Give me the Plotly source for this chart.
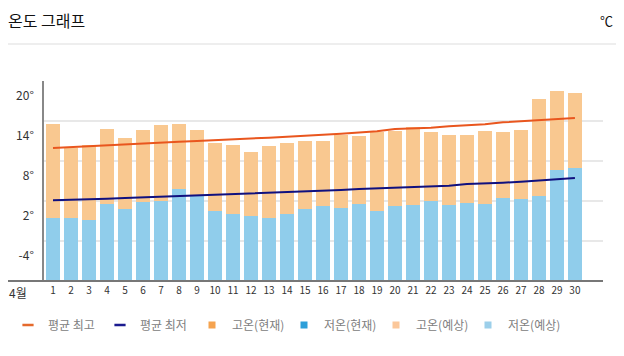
import plotly.graph_objects as go

days = list(range(1, 31))
day_labels = [str(d) for d in days]

# forecast highs / lows (°C)
high_fc = [13.6, 9.9, 10.4, 12.8, 11.4, 12.6, 13.4, 13.5, 12.6, 10.7,
           10.4, 9.3, 10.2, 10.7, 11.0, 11.0, 11.9, 11.7, 12.4, 12.5,
           13.1, 12.3, 11.9, 11.9, 12.5, 12.3, 12.6, 17.3, 18.5, 18.2]
low_fc = [-0.6, -0.5, -0.8, 1.6, 0.8, 1.9, 2.0, 3.8, 2.8, 0.5,
          0.1, -0.2, -0.6, 0.0, 0.8, 1.2, 0.9, 1.5, 0.5, 1.2,
          1.4, 2.0, 1.4, 1.7, 1.5, 2.4, 2.3, 2.8, 6.6, 7.0]
avg_high = [9.95, 10.1, 10.2, 10.35, 10.5, 10.6, 10.75, 10.9, 11.0, 11.1,
            11.25, 11.4, 11.5, 11.65, 11.85, 11.95, 12.1, 12.25, 12.45, 12.8,
            12.85, 13.0, 13.2, 13.35, 13.5, 13.8, 13.95, 14.1, 14.25, 14.45]
avg_low = [2.1, 2.15, 2.25, 2.35, 2.45, 2.55, 2.65, 2.75, 2.8, 2.9,
           2.95, 3.05, 3.15, 3.25, 3.45, 3.55, 3.65, 3.8, 3.9, 4.05,
           4.15, 4.25, 4.3, 4.55, 4.6, 4.75, 4.9, 5.05, 5.25, 5.45]

y_ticks = [-4, 2, 8, 14, 20]
y_tick_labels = ["-4°", "2°", "8°", "14°", "20°"]
y_min, y_max = -10, 20

legend_names = ["평균 최고", "평균 최저", "고온(현재)", "저온(현재)", "고온(예상)", "저온(예상)"]
legend_colors = ["#E56A2C", "#1B1B8F", "#F5A34F", "#2D9FD9", "#FBC79A", "#9CCFEA"]

FONT = "Noto Sans CJK KR"

# figure geometry (page has an 8px body margin)
W, H = 616, 348
ML, MR, MT, MB = 36, 21, 73, 75
PW, PH = W - ML - MR, H - MT - MB


def px_x(x):
    return (x - ML) / PW


def px_y(y):
    return (H - MB - y) / PH


fig = go.Figure()

# blue (low) bars from axis bottom
fig.add_trace(go.Bar(
    x=days, y=[l - y_min for l in low_fc], base=[y_min] * len(days),
    marker=dict(color="#90CDEB", line=dict(width=0)), width=0.78,
    showlegend=False, hoverinfo="skip"))
# orange (low -> high) bars
fig.add_trace(go.Bar(
    x=days, y=[h - l for h, l in zip(high_fc, low_fc)], base=low_fc,
    marker=dict(color="#F9C890", line=dict(width=0)), width=0.78,
    showlegend=False, hoverinfo="skip"))

fig.add_trace(go.Scatter(x=days, y=avg_high, mode="lines",
                         line=dict(color="#E9561E", width=2),
                         showlegend=False, hoverinfo="skip"))
fig.add_trace(go.Scatter(x=days, y=avg_low, mode="lines",
                         line=dict(color="#10107F", width=2),
                         showlegend=False, hoverinfo="skip"))

# legend entries
for i, (name, col) in enumerate(zip(legend_names, legend_colors)):
    if i < 2:
        mk = dict(symbol="line-ew", size=8, line=dict(width=2.5, color=col))
    else:
        mk = dict(symbol="square", size=7, color=col, line=dict(width=0))
    fig.add_trace(go.Scatter(x=[None], y=[None], mode="markers", name=name,
                             marker=mk, showlegend=True))

fig.update_layout(
    width=W, height=H,
    margin=dict(l=ML, r=MR, t=MT, b=MB, autoexpand=False),
    paper_bgcolor="white", plot_bgcolor="white",
    barmode="overlay", bargap=0,
    font=dict(family=FONT, color="#333"),
    title=dict(text="온도 그래프", x=0, xref="container", xanchor="left",
               y=1 - 13 / H, yref="container", yanchor="middle",
               font=dict(size=16, color="#111", family=FONT, weight="normal")),
    legend=dict(orientation="h", xref="container", yref="container",
                x=-0.012, xanchor="left", y=1 - 317 / H, yanchor="middle",
                font=dict(size=12, color="#808080", family=FONT),
                itemwidth=30, entrywidth=47, entrywidthmode="pixels",
                tracegroupgap=0),
    xaxis=dict(range=[0.5, 31.56], tickvals=days, ticktext=day_labels,
               showgrid=False, zeroline=False, showline=False, ticks="",
               tickfont=dict(size=10, color="#333"), ticklabelstandoff=2,
               automargin=False, fixedrange=True),
    yaxis=dict(range=[y_min, y_max], tickvals=y_ticks, ticktext=y_tick_labels,
               showgrid=True, gridcolor="#E8E8E8", gridwidth=1.5,
               zeroline=False, showline=True, linecolor="#888", linewidth=1.5,
               ticks="", tickfont=dict(size=12, color="#333"),
               ticklabelshift=15, ticklabelstandoff=6, automargin=False,
               fixedrange=True),
    shapes=[
        dict(type="line", xref="paper", yref="paper", x0=px_x(0), x1=px_x(W),
             y0=px_y(36), y1=px_y(36),
             line=dict(color="#DDDDDD", width=1)),
        dict(type="line", xref="paper", yref="paper", x0=px_x(0), x1=1,
             y0=0, y1=0, line=dict(color="#777", width=2)),
    ],
    annotations=[
        dict(text="℃", xref="paper", yref="paper", x=px_x(607),
             y=px_y(13), showarrow=False, xanchor="right", yanchor="middle",
             font=dict(size=13, color="#111", family=FONT)),
        dict(text="4월", xref="paper", yref="paper", x=px_x(9.5),
             y=px_y(284), showarrow=False, xanchor="center", yanchor="middle",
             font=dict(size=12, color="#333", family=FONT)),
    ],
)

fig.write_html("out.html", config={"displayModeBar": False})
